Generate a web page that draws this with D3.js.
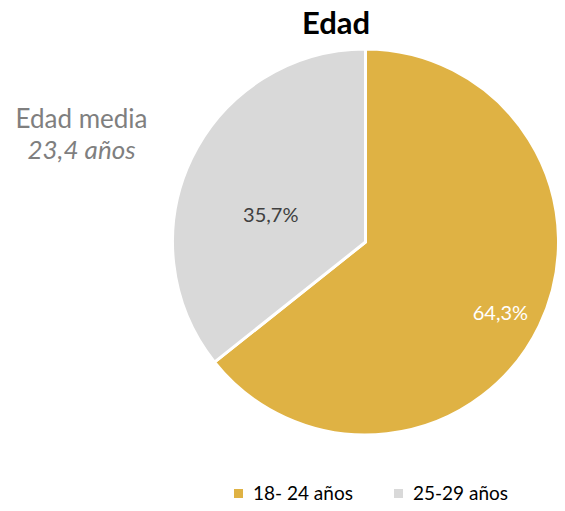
<html>
<head>
    <meta charset="utf-8">
    <script src="https://d3js.org/d3.v7.min.js"></script>
    <style>
        body { margin: 0; background: #fff; }
        svg text { font-family: Lato, "Open Sans", sans-serif; }
    </style>
</head>
<body>
    <svg id="chart"></svg>
    <script>
        // data
        const categories = ["18- 24 años", "25-29 años"];
        const values = [64.3, 35.7];
        const valueLabels = ["64,3%", "35,7%"];
        const colors = ["#DFB244", "#D9D9D9"];
        const labelColors = ["#ffffff", "#404040"];
        const title = "Edad";
        const noteLines = ["Edad media", "23,4 años"];

        const width = 565, height = 511;
        const cx = 365.5, cy = 242, radius = 193;

        const svg = d3.select("#chart")
            .attr("width", width)
            .attr("height", height);

        // title
        svg.append("text")
            .text(title)
            .attr("x", 336)
            .attr("y", 34)
            .attr("text-anchor", "middle")
            .style("font-size", "31px")
            .style("font-weight", "bold")
            .attr("fill", "#000");

        // pie
        const pie = d3.pie().sort(null).value(d => d);
        const arc = d3.arc().innerRadius(0).outerRadius(radius);
        const arcs = pie(values);

        const g = svg.append("g")
            .attr("transform", "translate(" + cx + "," + cy + ")");

        g.selectAll("path.slice").data(arcs)
            .join("path")
            .attr("class", "slice")
            .attr("d", arc)
            .attr("fill", (d, i) => colors[i])
            .attr("stroke", "#fff")
            .attr("stroke-width", 3)
            .attr("stroke-linejoin", "round");

        // label placement (radius fraction, angle nudge in degrees)
        const labelPlace = [{ r: 0.79, da: 2 }, { r: 0.51, da: -10 }];
        g.selectAll("text.val").data(arcs)
            .join("text")
            .attr("class", "val")
            .text((d, i) => valueLabels[i])
            .attr("transform", (d, i) => {
                const a = (d.startAngle + d.endAngle) / 2 + labelPlace[i].da * Math.PI / 180;
                const r = radius * labelPlace[i].r;
                return "translate(" + (Math.sin(a) * r) + "," + (-Math.cos(a) * r) + ")";
            })
            .attr("text-anchor", "middle")
            .attr("dy", "0.35em")
            .style("font-size", "20px")
            .attr("fill", (d, i) => labelColors[i]);

        // side note
        const note = svg.append("text")
            .attr("text-anchor", "middle")
            .attr("fill", "#7F7F7F")
            .style("font-size", "26px");
        note.append("tspan").text(noteLines[0]).attr("x", 81.5).attr("y", 128);
        note.append("tspan").text(noteLines[1]).attr("x", 81.5).attr("y", 159)
            .style("font-style", "italic");

        // legend
        const legendX = d3.scaleOrdinal().domain(categories).range([234, 394]);
        const legend = svg.selectAll("g.legend").data(categories)
            .join("g")
            .attr("class", "legend")
            .attr("transform", d => "translate(" + legendX(d) + ",489)");
        legend.append("rect")
            .attr("width", 9)
            .attr("height", 9)
            .attr("fill", (d, i) => colors[i]);
        legend.append("text")
            .text(d => d)
            .attr("x", 19)
            .attr("y", 11)
            .style("font-size", "19px")
            .attr("fill", "#000");
    </script>
</body>
</html>
